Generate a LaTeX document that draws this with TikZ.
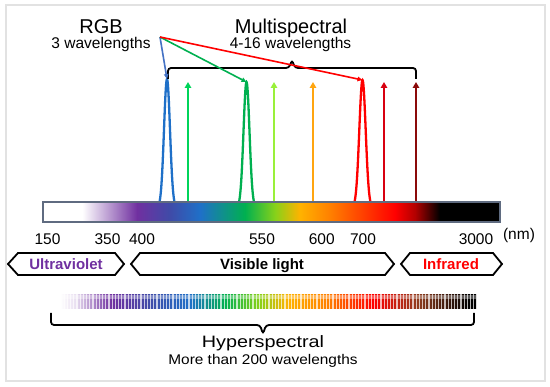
\documentclass[tikz,border=0pt]{standalone}
\usepackage{fontspec}
\setmainfont{Liberation Sans}
\usetikzlibrary{arrows.meta}
\definecolor{framegray}{HTML}{E2E2E2}
\definecolor{barborder}{HTML}{5F6B80}
\definecolor{uvpurple}{HTML}{7030A0}
\definecolor{cviol}{HTML}{3F4BA8}
\definecolor{cblue}{HTML}{1F70C8}
\definecolor{cbline}{HTML}{4472C4}
\definecolor{cgreen}{HTML}{00B050}
\definecolor{cgreen2}{HTML}{00D45A}
\definecolor{clgreen}{HTML}{99F03A}
\definecolor{corange}{HTML}{FFA510}
\definecolor{cred}{HTML}{FF0000}
\definecolor{cred2}{HTML}{D80010}
\definecolor{cdred}{HTML}{8B0A0A}
\pgfdeclarehorizontalshading{spec}{100bp}{%
color(0bp)=(white); color(25bp)=(white); color(29.3bp)=(white);
color(35.3bp)=(uvpurple); color(38.9bp)=(cviol);
color(42.2bp)=(cblue); color(47.1bp)=(cgreen); color(50.4bp)=(green!40!yellow!80!black!90!white);
color(53.1bp)=(orange!60!yellow); color(56.4bp)=(orange);
color(63.5bp)=(red); color(65.7bp)=(red!70!black); color(68.4bp)=(black);
color(75bp)=(black); color(100bp)=(black)}
\pgfdeclarehorizontalshading{hspec}{100bp}{%
color(0bp)=(white); color(25bp)=(white); color(26.8bp)=(uvpurple!15!white);
color(31.2bp)=(uvpurple); color(35.8bp)=(cviol);
color(40.6bp)=(cblue); color(44.8bp)=(cgreen); color(48.9bp)=(green!40!yellow!80!black!90!white);
color(52.4bp)=(orange!60!yellow); color(57.2bp)=(orange);
color(62.6bp)=(red); color(68bp)=(brown!60!black!80!red); color(74bp)=(black);
color(75bp)=(black); color(100bp)=(black)}
\tikzset{
  bigtxt/.style={font=\fontsize{20}{24}\selectfont, anchor=base, inner sep=0pt},
  subtxt/.style={font=\fontsize{15.5}{18}\selectfont, anchor=base, inner sep=0pt},
  numtxt/.style={font=\fontsize{15.5}{18}\selectfont, anchor=base, inner sep=0pt},
  hextxt/.style={font=\bfseries\fontsize{15}{18}\selectfont, anchor=base, inner sep=0pt},
  hexbox/.style={draw=black, line width=1.8pt, line join=miter},
  peak/.style={line width=2.3pt},
  varrow/.style={line width=2pt, -{Triangle[length=6pt,width=6.5pt]}},
  rgbarrow/.style={line width=1.6pt, -{Triangle[length=5pt,width=4.5pt]}},
  brace/.style={draw=black, line width=1.8pt, rounded corners=3pt}
}
\begin{document}
\begin{tikzpicture}[x=1pt,y=-1pt]
\useasboundingbox (0,0) rectangle (550,387);
\draw[framegray, line width=1.5pt] (6,5) rectangle (545,381);

% titles
\node[bigtxt] (rgb) at (101,33.3) {RGB};
\node[subtxt] (rgbsub) at (101,49) {3 wavelengths};
\node[bigtxt] (ms) at (291,33.3) {Multispectral};
\node[subtxt] (mssub) at (290.5,49) {4-16 wavelengths};

% peaks
\coordinate (pb) at (167,79);
\coordinate (pg) at (246.5,82);
\coordinate (pr) at (362.5,80);
\pgfmathsetmacro{\ez}{exp(-3.125)}
\draw[peak, cblue] plot[domain=-7.5:7.5, samples=61, smooth] ({167+\x},{202-(202-79)*(exp(-\x*\x/18)-\ez)/(1-\ez)});
\draw[peak, cgreen] plot[domain=-7.5:7.5, samples=61, smooth] ({246.5+\x},{202-(202-82)*(exp(-\x*\x/18)-\ez)/(1-\ez)});
\draw[peak, cred] plot[domain=-8:8, samples=61, smooth] ({362.5+\x},{202-(202-80)*(exp(-\x*\x/20.5)-\ez)/(1-\ez)});

% vertical arrows
\foreach \n/\xx/\cc in {a1/188/cgreen2, a2/274/clgreen, a3/313/corange, a4/384/cred2, a5/416/cdred}{
  \coordinate (\n b) at (\xx,202);
  \coordinate (\n t) at (\xx,82);
  \draw[varrow, \cc] (\n b) -- (\n t);
}

% top brace
\coordinate (tbl) at (168,79);
\coordinate (tbr) at (416,79);
\coordinate (tbtip) at (292,60);
\draw[brace] (tbl) -- (168,68) -- (289,68) -- (tbtip) -- (295,68) -- (416,68) -- (tbr);

% RGB arrows
\coordinate (o) at (160,37);
\draw[rgbarrow, cbline] (o) -- (pb);
\draw[rgbarrow, cgreen] (o) -- (pg);
\draw[rgbarrow, cred] (o) -- (pr);

% spectrum bar
\shade[shading=spec] (43,202) rectangle (500,222);
\draw[barborder, line width=1.2pt] (43,202) rectangle (500,222);

% numbers
\node[numtxt] (n150) at (47.5,245) {150};
\node[numtxt] (n350) at (107.5,245) {350};
\node[numtxt] (n400) at (142,245) {400};
\node[numtxt] (n550) at (262,245) {550};
\node[numtxt] (n600) at (321.7,245) {600};
\node[numtxt] (n700) at (363,245) {700};
\node[numtxt] (n3000) at (476,245) {3000};
\node[numtxt] (nm) at (519,240) {(nm)};

% hex labels
\draw[hexbox] (8,264) -- (18,253) -- (115,253) -- (124,264) -- (115,275) -- (18,275) -- cycle;
\node[hextxt, uvpurple] (uv) at (66,270) {Ultraviolet};
\draw[hexbox] (131,264) -- (140,253) -- (385,253) -- (394,264) -- (385,275) -- (140,275) -- cycle;
\node[hextxt] (vis) at (262,270) {Visible light};
\draw[hexbox] (401,264) -- (410,253) -- (493,253) -- (502,264) -- (493,275) -- (410,275) -- cycle;
\node[hextxt, cred] (ir) at (451,270) {Infrared};

% hyperspectral bar
\shade[shading=hspec] (60,295) rectangle (476,309);
\foreach \i in {0,...,129}{
  \draw[white, opacity=0.7, line width=1.1pt] ({61+3.2*\i},294.5) -- ({61+3.2*\i},309.5);
}
\fill[white, opacity=0.35] (60,295) rectangle (476,299);

% bottom brace
\coordinate (bbl) at (51,313);
\coordinate (bbr) at (474,313);
\coordinate (bbtip) at (263,334);
\draw[brace] (bbl) -- (51,325) -- (260,325) -- (bbtip) -- (266,325) -- (474,325) -- (bbr);

\node[font=\fontsize{16.5}{19}\selectfont, anchor=base, inner sep=0pt] (hs) at (263,348) {\scalebox{1.2}[1]{Hyperspectral}};
\node[font=\fontsize{14}{16}\selectfont, anchor=base, inner sep=0pt] (hssub) at (263,365) {\scalebox{1.1}[1]{More than 200 wavelengths}};
\end{tikzpicture}
\end{document}
